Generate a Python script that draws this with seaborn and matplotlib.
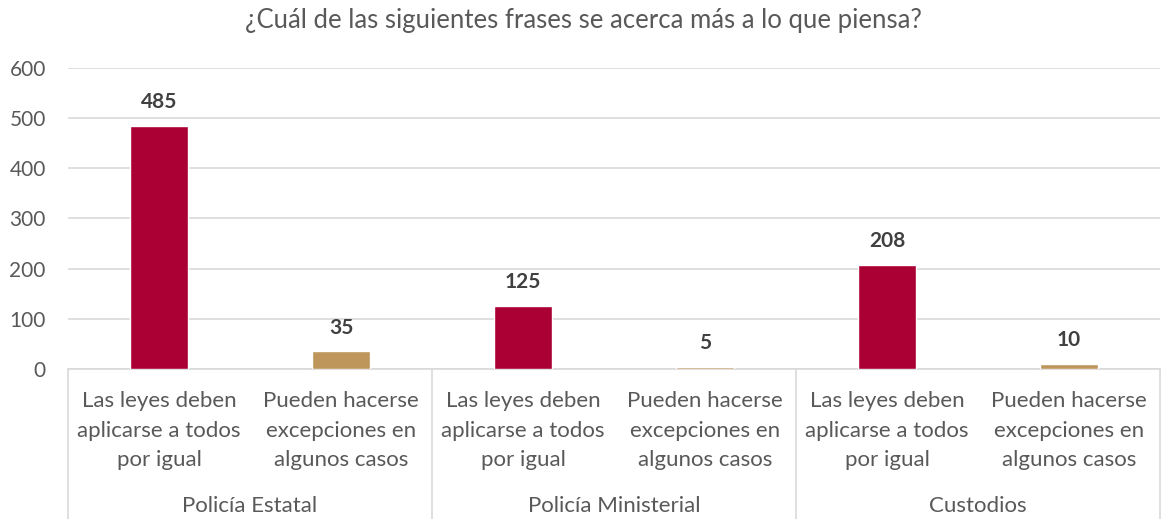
import matplotlib
matplotlib.use("Agg")
import matplotlib.pyplot as plt
import matplotlib.transforms as mtransforms
from matplotlib.lines import Line2D
import pandas as pd
import seaborn as sns

# Data
groups = ["Policía Estatal", "Policía Ministerial", "Custodios"]
answers = ["Las leyes deben\naplicarse a todos\npor igual",
           "Pueden hacerse\nexcepciones en\nalgunos casos"]
values_iguales = [485, 125, 208]
values_excepciones = [35, 5, 10]
title = "¿Cuál de las siguientes frases se acerca más a lo que piensa?"
yticks = [0, 100, 200, 300, 400, 500, 600]

rows = []
for g, a, b in zip(groups, values_iguales, values_excepciones):
    rows.append({"slot": f"{g}|0", "grupo": g, "respuesta": answers[0], "valor": a})
    rows.append({"slot": f"{g}|1", "grupo": g, "respuesta": answers[1], "valor": b})
df = pd.DataFrame(rows)

sns.set_theme(style="white")
plt.rcParams["font.family"] = ["Lato", "DejaVu Sans"]

fig = plt.figure(figsize=(11.67, 5.19), dpi=100)
ax = fig.add_axes([0.0583, 0.289, 0.9357, 0.580])

palette = {answers[0]: "#AB0033", answers[1]: "#BE955B"}
sns.barplot(data=df, x="slot", y="valor", hue="respuesta", palette=palette,
            dodge=False, width=0.32, saturation=1, legend=False, ax=ax, zorder=3)

ax.set_ylim(0, 600)
ax.set_xlim(-0.5, len(df) - 0.5)
ax.set_yticks(yticks)
ax.yaxis.grid(True, color="#D9D9D9", linewidth=1.2, zorder=0)
ax.set_axisbelow(True)
for s in ["top", "right", "left"]:
    ax.spines[s].set_visible(False)
ax.spines["bottom"].set_color("#D9D9D9")
ax.spines["bottom"].set_linewidth(1.2)
ax.spines["bottom"].set_zorder(1)
ax.set_xlabel("")
ax.set_ylabel("")
ax.tick_params(axis="y", length=0, labelsize=15, labelcolor="#595959", pad=16)
ax.tick_params(axis="x", length=0, labelsize=16, labelcolor="#595959", pad=16)
ax.set_xticks(range(len(df)))
ax.set_xticklabels([r for r in df["respuesta"]], linespacing=1.6, va="top")

# value labels
for cont in ax.containers:
    for bar in cont:
        h = bar.get_height()
        if h != h:
            continue
        ax.annotate(f"{int(h)}", (bar.get_x() + bar.get_width() / 2, h),
                    xytext=(0, 10), textcoords="offset points",
                    ha="center", va="bottom", fontsize=15, fontweight="bold",
                    color="#404040")

# group labels and separators under the axis
trans = mtransforms.blended_transform_factory(ax.transData, fig.transFigure)
for i, g in enumerate(groups):
    ax.text(2 * i + 0.5, 0.025, g, transform=trans, ha="center", va="center",
            fontsize=16, color="#595959")
for xb in [-0.5, 1.5, 3.5, 5.5]:
    ax.add_line(Line2D([xb, xb], [0.289, 0.0], transform=trans,
                       color="#D9D9D9", linewidth=1.2, clip_on=False))

fig.text(0.5, 0.961, title, ha="center", va="center", fontsize=18.5, color="#595959")

fig.savefig("out.png", dpi=100)
